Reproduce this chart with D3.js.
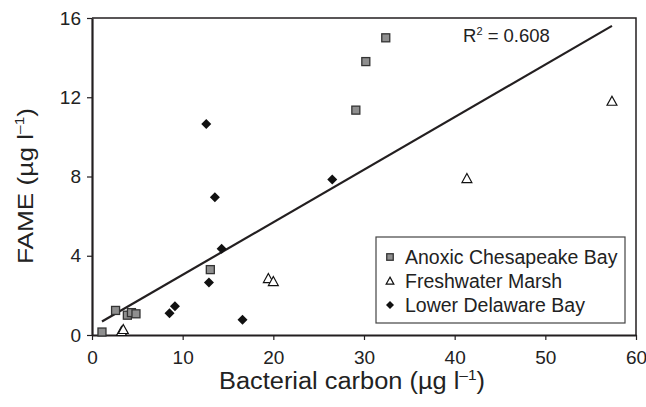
<!DOCTYPE html>
<html>
<head>
<meta charset="utf-8">
<script src="https://cdn.jsdelivr.net/npm/d3@7"></script>
<style>
  body { margin: 0; background: #fff; }
  svg { display: block; font-family: "Liberation Sans", Arial, sans-serif; }
</style>
</head>
<body>
<svg width="646" height="407"></svg>
<script>
// точки по группам: [бактериальный углерод, FAME]
const anoxic = [[1.1, 0.15], [2.6, 1.24], [3.9, 1.0], [4.35, 1.13], [4.85, 1.07],
  [13.05, 3.3], [29.1, 11.35], [30.2, 13.8], [32.4, 15.0]];
const freshwater = [[3.25, 0.18], [3.45, 0.28], [19.45, 2.85], [20.0, 2.7],
  [41.35, 7.9], [57.35, 11.8]];
const delaware = [[8.55, 1.1], [9.15, 1.45], [12.6, 10.65], [12.9, 2.65],
  [13.55, 6.95], [14.3, 4.35], [16.6, 0.77], [26.5, 7.85]];
const seriesNames = ["Anoxic Chesapeake Bay", "Freshwater Marsh", "Lower Delaware Bay"];
const ticksX = [0, 10, 20, 30, 40, 50, 60];
const ticksY = [0, 4, 8, 12, 16];
// линия тренда (по картинке)
const fitSlope = 0.2653;
const fitIntercept = 0.386;
const r2Label = "0.608";

const svg = d3.select("svg");
const area = { left: 92, right: 636, top: 18, bottom: 335 };
const ink = "#231f20";

const scX = d3.scaleLinear().domain([0, 60]).range([area.left, area.right]);
const scY = d3.scaleLinear().domain([0, 16]).range([area.bottom, area.top]);

// рамка сверху и справа
svg.append("path")
  .attr("d", `M${area.left},${area.top}H${area.right}V${area.bottom}`)
  .attr("fill", "none").attr("stroke", ink).attr("stroke-width", 1.5);

// оси
const axisX = svg.append("g")
  .attr("transform", `translate(0, ${area.bottom})`)
  .call(d3.axisBottom(scX).tickValues(ticksX).tickSize(5).tickPadding(11).tickSizeOuter(0));
const axisY = svg.append("g")
  .attr("transform", `translate(${area.left}, 0)`)
  .call(d3.axisLeft(scY).tickValues(ticksY).tickSize(5).tickPadding(6).tickSizeOuter(0));
[axisX, axisY].forEach(g => {
  g.select(".domain").attr("stroke", ink).attr("stroke-width", 2.2);
  g.selectAll(".tick line").attr("stroke", ink).attr("stroke-width", 1.2);
  g.selectAll(".tick text").attr("fill", "#222").style("font-size", "19px");
});

// подписи осей
svg.append("text")
  .attr("x", 352).attr("y", 389)
  .attr("text-anchor", "middle").attr("fill", "#222").style("font-size", "23px")
  .attr("textLength", 266).attr("lengthAdjust", "spacingAndGlyphs")
  .html('Bacterial carbon (µg l<tspan dy="-9" font-size="14">–1</tspan><tspan dy="9">)</tspan>');
svg.append("text")
  .attr("transform", "translate(33, 186) rotate(-90)")
  .attr("text-anchor", "middle").attr("fill", "#222").style("font-size", "22px")
  .attr("textLength", 156).attr("lengthAdjust", "spacingAndGlyphs")
  .html('FAME (µg l<tspan dy="-9" font-size="13">–1</tspan><tspan dy="9">)</tspan>');

// линия тренда между крайними точками по X
const allX = anoxic.concat(freshwater, delaware).map(d => d[0]);
const fitLine = d3.extent(allX).map(x => [x, fitIntercept + fitSlope * x]);
svg.append("path")
  .attr("d", d3.line().x(d => scX(d[0])).y(d => scY(d[1]))(fitLine))
  .attr("stroke", ink).attr("stroke-width", 2.2).attr("fill", "none");

svg.append("text")
  .attr("x", 463).attr("y", 42).attr("fill", "#222").style("font-size", "18.5px")
  .html('R<tspan dy="-7" font-size="11">2</tspan><tspan dy="7"> = ' + r2Label + '</tspan>');

// маркеры
const markers = {
  square: (g, s) => g.append("rect").attr("x", -s / 2).attr("y", -s / 2).attr("width", s).attr("height", s)
    .attr("fill", "#8f8f8f").attr("stroke", "#333").attr("stroke-width", 1.3),
  triangle: (g, s) => g.append("path").attr("d", `M0,${-s * 0.55}L${s * 0.55},${s * 0.45}L${-s * 0.55},${s * 0.45}Z`)
    .attr("fill", "#fff").attr("stroke", "#111").attr("stroke-width", 1.2),
  diamond: (g, s) => g.append("path").attr("d", `M0,${-s / 2}L${s / 2},0L0,${s / 2}L${-s / 2},0Z`)
    .attr("fill", "#111")
};

function drawPoints(data, kind, size) {
  svg.append("g").selectAll("g")
    .data(data)
    .enter()
    .append("g")
    .attr("transform", d => `translate(${scX(d[0])}, ${scY(d[1])})`)
    .each(function() { markers[kind](d3.select(this), size); });
}
drawPoints(delaware, "diamond", 10);
drawPoints(freshwater, "triangle", 9);
drawPoints(anoxic, "square", 8);

// легенда
const legend = svg.append("g");
legend.append("rect")
  .attr("x", 376).attr("y", 237).attr("width", 249).attr("height", 86)
  .attr("fill", "#fff").attr("stroke", "#444").attr("stroke-width", 1.2);
const kinds = ["square", "triangle", "diamond"];
const sizes = [6.5, 7, 8];
seriesNames.forEach((name, i) => {
  const y = 257 + i * 24;
  const m = legend.append("g").attr("transform", `translate(390, ${y})`);
  markers[kinds[i]](m, sizes[i]);
  legend.append("text")
    .attr("x", 405).attr("y", y + 6.5)
    .attr("fill", "#222").style("font-size", "19.5px")
    .text(name);
});
</script>
</body>
</html>
